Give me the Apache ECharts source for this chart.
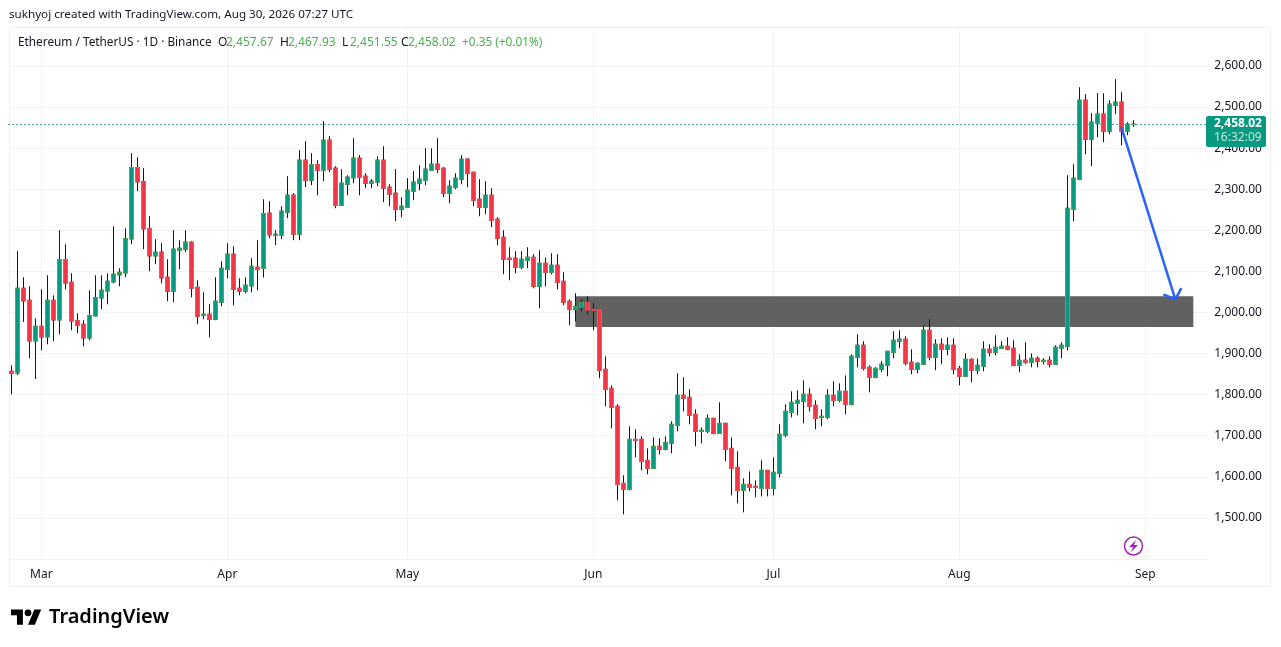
<!DOCTYPE html>
<html><head><meta charset="utf-8">
<style>html,body{margin:0;padding:0;background:#fff}#c{width:1281px;height:647px}</style>
<script src="https://cdn.jsdelivr.net/npm/echarts@6/dist/echarts.min.js"></script>
</head><body><div id="c"></div>
<script>
const opens=[1856.8,1852.7,2058.9,2029.6,1930.6,1966.3,1940.4,2029.6,1981.8,2128.7,
2073.5,1980.1,1971.2,1937.9,1991.5,2035.3,2052.4,2074.3,2091.3,2096.2,
2179,2352.7,2318.6,2204.2,2137.6,2146.6,2085.7,2051.6,2151.4,2153.9,
2170.9,2061.3,1993.2,1995.6,1983.4,2024.8,2105.2,2141.7,2058.9,2051.6,
2064.5,2110,2107,2241.6,2188,2188,2244,2285.4,2190.4,2370.6,
2321.9,2360,2346.3,2419.3,2351.1,2261,2312.2,2327.6,2375.5,2331.7,
2314.6,2317,2370.5,2304.8,2290.2,2251.2,2256,2295,2314.5,2321.8,
2346.2,2360.8,2351,2290.2,2304.8,2324.3,2373,2341.3,2275.6,2256,
2285.3,2226.9,2183,2132,2132,2110,2127,2134.3,2063.7,2119.7,
2097.8,2114.9,2075.9,2027.2,2007.7,2012.6,2024.8,2007.7,2007.7,1861.7,
1815.4,1771.6,1584.1,1569.5,1691.2,1691.2,1640,1620.6,1674.2,1666.9,
1681.5,1725.3,1798.4,1793.5,1752.1,1710.7,1710.7,1742.4,1705.8,1730.2,
1669.3,1623,1567,1581.6,1576.8,1571.9,1615.7,1571.9,1608.4,1701,
1757,1778.9,1783.8,1800.8,1774,1745,1744.8,1798.4,1786.2,1808.1,
1776.5,1890.9,1920.2,1866.6,1842.2,1861.7,1871.4,1903.1,1929.9,1934.8,
1878.8,1861.7,1873.9,1956.7,1890.9,1922.6,1910.4,1920.2,1864.1,1844.6,
1886,1859.2,1869,1910.4,1903.1,1912.8,1917.7,1912.8,1871.4,1883.6,
1878.7,1888.5,1881.2,1883.6,1873.9,1912.8,1917.6,2251.2,2324.3,2516.6,
2421.7,2460.6,2482.6,2441.2,2504.5,2511.8,2441.2,2457.67];
const closes=[1851.9,2058.9,2028,1930.6,1966.3,1940.4,2029.6,1981.8,2128.7,2071.9,
1979.3,1968.8,1937.9,1992.3,2036.1,2054,2075.9,2093,2097.8,2179.8,
2352.7,2317.8,2203.4,2137.6,2146.6,2084,2051.6,2153.9,2156.3,2170.9,
2058.9,1990.7,1995.6,1983.4,2027.3,2107.6,2141.7,2056.5,2051.6,2066.2,
2112.5,2105,2240.7,2188.8,2190.4,2246.4,2285.4,2190.4,2370.6,2321.9,
2360,2346.3,2419.3,2348.7,2261,2314.6,2329.2,2375.5,2329.2,2314.6,
2319.4,2370.5,2302.4,2287.8,2251.2,2258.5,2297.5,2317,2324.3,2348.6,
2360.8,2348.6,2290.2,2307.2,2326.7,2373,2338.9,2273.1,2256,2285.3,
2224.4,2180.6,2129.5,2129.5,2110,2129.5,2134.3,2063.7,2119.7,2097.8,
2114.9,2073.5,2024.8,2007.7,2015,2024.8,2005.3,2005.3,1859.2,1813,
1769.1,1581.6,1569.5,1691.2,1688.8,1637.6,1620.6,1674.2,1666.9,1683.9,
1727.8,1798.4,1791,1749.7,1710.7,1713.1,1742.4,1705.8,1730.2,1666.9,
1620.6,1567,1581.6,1574.3,1574.3,1615.7,1571.9,1610.9,1703.4,1759.4,
1781.3,1786.2,1800.8,1771.6,1742.4,1747.2,1798.4,1786.2,1808.1,1776.5,
1893.4,1920.2,1864.1,1842.2,1864.1,1873.9,1905.5,1932.3,1934.8,1876.3,
1861.7,1876.3,1956.7,1890.9,1922.6,1910.4,1920.2,1861.7,1844.6,1886,
1859.2,1871.4,1910.4,1903.1,1915.3,1917.7,1910.4,1871.4,1883.6,1878.7,
1888.5,1881.2,1883.6,1873.9,1915.3,1920.2,2253.7,2326.7,2516.6,2421.7,
2463.1,2482.6,2441.2,2506.9,2511.8,2441.2,2458.2,2458.02];
const highs=[1871.4,2149,2085.6,2063.7,1985.8,2056.4,2090.5,2041.8,2200.1,2166,
2095.4,1998,1981,2054,2090.5,2090.5,2095.4,2209.8,2107.6,2205,
2387.6,2377.9,2351.1,2234.2,2178.2,2168.5,2129.5,2200.1,2175.8,2200.1,
2173.3,2078.4,2049.2,2020,2085.7,2124.7,2168.5,2161.2,2083.2,2085.7,
2132,2175.8,2275.6,2270.8,2200.2,2258.6,2331.7,2290.3,2395,2416.9,
2387.7,2370.6,2465.6,2429,2356,2348.7,2334,2424.2,2382.8,2339,
2325,2380.3,2404.6,2312.1,2348.6,2280.4,2326.7,2343.8,2358.4,2399.8,
2399.8,2424.1,2353.5,2321.8,2338.9,2382.7,2375.4,2341.3,2324.3,2319.4,
2302.4,2231.8,2200.1,2158.7,2149,2149,2158.7,2141.7,2151.4,2134.3,
2144.1,2141.7,2097.8,2032.1,2046.7,2032.1,2039.4,2022.3,2007.7,1893.3,
1822.7,1776.5,1603.6,1722.9,1715.6,1698.5,1669.3,1696.1,1693.7,1698.5,
1735,1851.9,1842.2,1813,1764.3,1720.4,1752.1,1742.4,1781.3,1730.2,
1696.1,1662,1596.3,1613.3,1591.4,1640.1,1615.7,1647.4,1727.8,1776.5,
1808.1,1810.5,1834.9,1815.4,1786.2,1764.3,1813,1832.5,1827.6,1847,
1898.2,1946.9,1929.9,1871.4,1866.6,1881.2,1905.5,1954.2,1956.7,1942,
1910.4,1878.8,1968.8,1983.5,1934.8,1937.2,1939.6,1937.2,1870,1900.6,
1888.5,1888,1929.9,1922.6,1944.5,1929.9,1939.6,1932.3,1898.2,1927.4,
1900.6,1893.3,1888.5,1893.3,1920.2,1927.4,2334,2360.8,2548.3,2531.3,
2485,2533.7,2533.7,2516.6,2567.8,2536.1,2463.1,2467.93];
const lows=[1800.7,1847.8,1976.9,1888.4,1838.1,1907.9,1922.5,1929.8,1946.8,2056.4,
1956.6,1949.3,1917.6,1932.2,1990.7,2007.7,2019.9,2071.1,2063.7,2085.6,
2166,2295.1,2153.9,2100.3,2117.3,2071.1,2027.3,2024.8,2105.2,2146.6,
2037,1971.2,1983.4,1939.6,1981,2015,2083.2,2017.5,2041.8,2046.7,
2049,2054,2085,2180.7,2163.6,2178.2,2229.4,2175.8,2175.8,2304.9,
2309.7,2285.4,2319.5,2341.4,2253.7,2261,2285.4,2314.6,2285.4,2302.4,
2302.4,2307.2,2268.3,2258.5,2222,2231.7,2256,2273.1,2297.5,2309.7,
2346.2,2338.9,2280.4,2265.8,2300,2312.1,2304.8,2258.5,2234.2,2239.1,
2207.4,2163.6,2093,2078.3,2095.4,2105.1,2107.6,2058.9,2010.2,2063.7,
2093,2056.4,2017.5,1968.8,1978.5,2002.8,1995.5,1956.6,1839.8,1771.6,
1718,1542.7,1508.6,1567,1647.4,1615.7,1606,1620.6,1654.7,1664.4,
1657.1,1710.7,1759.4,1727.8,1674.2,1681.5,1705.8,1703.4,1705.8,1637.6,
1554.9,1535.4,1513.5,1564.6,1550,1552.4,1552.4,1554.9,1598.7,1696.1,
1744.8,1749.7,1730.2,1759.4,1715.6,1722.9,1740,1771.6,1781.3,1752.1,
1774,1866.6,1859.3,1805.7,1839.8,1854.4,1844.7,1888.5,1912.8,1871.4,
1849.5,1852,1873.9,1883.6,1859.3,1873.9,1895.8,1849.5,1822.7,1844.6,
1830,1849.5,1856.8,1893.3,1895.8,1912.8,1908,1869,1854.4,1873.9,
1866.6,1866.6,1873.9,1866.6,1873.9,1888.5,1907.9,2222,2324.3,2385.1,
2355.9,2426.5,2414.4,2433.9,2482.6,2407.1,2431.4,2451.55];
const firstDay='2026-02-24';
const bandCount=200;
const monthNames={'03':'Mar','04':'Apr','05':'May','06':'Jun','07':'Jul','08':'Aug','09':'Sep'};
const zoneTop=2039.4, zoneBottom=1964.5, zoneFrom='2026-05-29', zoneTo='2026-09-09';
const lastPrice=2458.02;
const arrowShaft=[['2026-08-28',2451],['2026-09-06',2032]];
const arrowHead=[['2026-09-04',2044],['2026-09-06',2032],['2026-09-07',2059]];

const categories=[];
const d0=Date.parse(firstDay+'T00:00:00Z');
for(let i=0;i<bandCount;i++)categories.push(new Date(d0+i*864e5).toISOString().slice(0,10));

const wickData=opens.map((o,i)=>[o,closes[i],lows[i],highs[i]]);
const bodyData=opens.map((o,i)=>[o,closes[i],Math.min(o,closes[i]),Math.max(o,closes[i])]);

const F='"Noto Sans",sans-serif';
const dark='#131722', up='#4caf50';
const txt=(x,y,s,fill,extra)=>({type:'text',x,y,z:20,silent:true,style:Object.assign({text:s,fill,font:'12px '+F,textVerticalAlign:'middle'},extra||{})});
const small={font:'11.65px '+F};
const title={font:'11.8px '+F};
const logoPt=(x,y)=>[11+x*.85,606+y*.85];

const chart=echarts.init(document.getElementById('c'),null,{renderer:'canvas'});
chart.setOption({
 animation:false,backgroundColor:'#fff',
 grid:{left:8.33,top:28.6,width:1200,height:530.4,containLabel:false},
 xAxis:{type:'category',data:categories,
  axisLine:{show:false},axisTick:{show:false},
  axisLabel:{interval:(i,v)=>v.slice(8)==='01',formatter:v=>monthNames[v.slice(5,7)]||'',color:dark,fontFamily:F,fontSize:12,margin:9.5},
  splitLine:{show:true,interval:(i,v)=>v.slice(8)==='01',alignWithLabel:true,lineStyle:{color:'#f1f2f5',width:1}}},
 yAxis:{type:'value',position:'right',min:1400,max:2690.8,interval:100,scale:true,
  axisLine:{show:false},axisTick:{show:false},
  axisLabel:{showMinLabel:false,showMaxLabel:false,margin:6,color:dark,fontFamily:F,fontSize:12,
   formatter:v=>v.toLocaleString('en-US',{minimumFractionDigits:2,maximumFractionDigits:2})},
  splitLine:{show:true,showMinLine:true,showMaxLine:false,lineStyle:{color:'#f1f2f5',width:1}}},
 series:[
  {type:'candlestick',name:'wicks',data:wickData,barWidth:5,large:false,progressive:0,z:3,
   itemStyle:{color:dark,color0:dark,borderColor:dark,borderColor0:dark,borderWidth:1},
   markArea:{silent:true,z:1,itemStyle:{color:'#616161',opacity:1},label:{show:false},
    data:[[{xAxis:zoneFrom,yAxis:zoneTop},{xAxis:zoneTo,yAxis:zoneBottom}]]},
   markLine:{silent:true,symbol:'none',z:2,label:{show:false},
    lineStyle:{color:'#089981',type:[1.5,2.5],width:1,opacity:1},data:[{yAxis:lastPrice}]}},
  {type:'candlestick',name:'bodies',data:bodyData,barWidth:5,large:false,progressive:0,z:4,
   itemStyle:{color:'#089981',color0:'#f23645',borderColor:up,borderColor0:'#f7525f',borderWidth:1}},
  {type:'line',name:'arrow shaft',data:arrowShaft,symbol:'none',z:6,lineStyle:{color:'#2962ff',width:2.5}},
  {type:'line',name:'arrow head',data:arrowHead,symbol:'none',z:6,lineStyle:{color:'#2962ff',width:2.5}}
 ],
 graphic:[
  {type:'rect',z:-1,silent:true,shape:{x:9.5,y:27.5,width:1261,height:559,r:2},style:{fill:'none',stroke:'#eceef2',lineWidth:1}},
  txt(9,14.5,'sukhyoj created with TradingView.com, Aug 30, 2026 07:27 UTC',dark,small),
  txt(18,42.5,'Ethereum / TetherUS · 1D · Binance',dark,title),
  txt(218,42.5,'O',dark),txt(226,42.5,'2,457.67',up),
  txt(280,42.5,'H',dark),txt(288,42.5,'2,467.93',up),
  txt(342,42.5,'L',dark),txt(350,42.5,'2,451.55',up),
  txt(401,42.5,'C',dark),txt(408,42.5,'2,458.02',up),
  txt(462,42.5,'+0.35 (+0.01%)',up,title),
  {type:'rect',z:20,silent:true,shape:{x:1206,y:116,width:60,height:31,r:2},style:{fill:'#089981'}},
  txt(1214,124,'2,458.02','#fff',{font:'bold 12px '+F}),
  txt(1214,138,'16:32:09','#c4e8e0'),
  {type:'circle',z:20,silent:true,shape:{cx:1133.5,cy:546,r:9},style:{fill:'none',stroke:'#9c27b0',lineWidth:1.5}},
  {type:'polygon',z:20,silent:true,shape:{points:[[1136,540],[1129,547],[1133,547],[1131,552],[1138,545],[1134,545]]},style:{fill:'#9c27b0'}},
  {type:'polygon',z:20,silent:true,shape:{points:[[14,22],[7,22],[7,11],[0,11],[0,4],[14,4]].map(p=>logoPt(p[0],p[1]))},style:{fill:'#000'}},
  {type:'polygon',z:20,silent:true,shape:{points:[[28,22],[20,22],[27.5,4],[35.5,4]].map(p=>logoPt(p[0],p[1]))},style:{fill:'#000'}},
  {type:'circle',z:20,silent:true,shape:{cx:28,cy:612.8,r:3.4},style:{fill:'#000'}},
  txt(49,617.5,'TradingView','#000',{font:'600 20px '+F})
 ]
});
</script></body></html>
